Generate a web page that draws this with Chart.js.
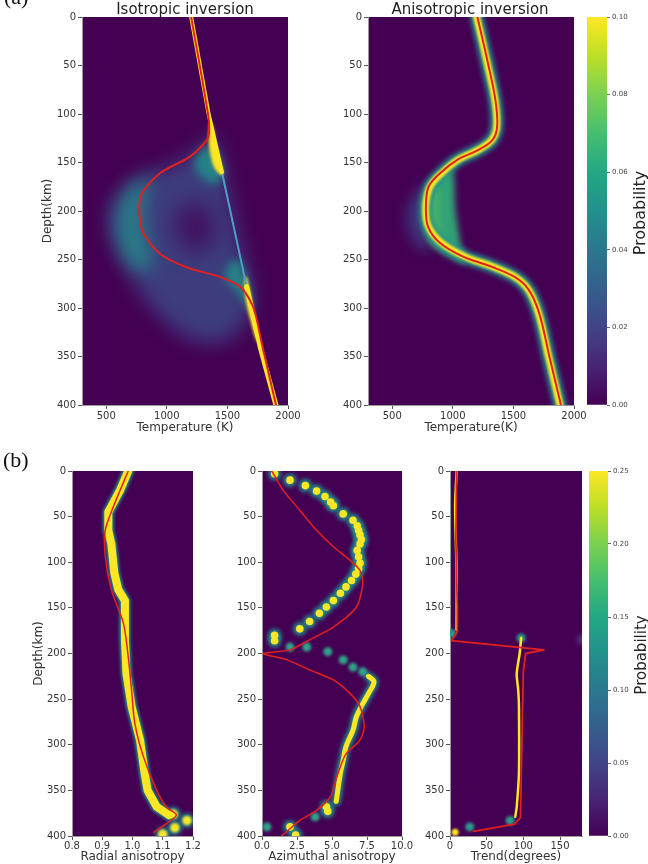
<!DOCTYPE html>
<html>
<head>
<meta charset="utf-8">
<script src="https://cdn.jsdelivr.net/npm/chart.js@4.4.1/dist/chart.umd.min.js"></script>
<style>
  html, body { margin: 0; padding: 0; background: #fff; }
  #fig { position: relative; width: 648px; height: 864px; overflow: hidden; font-family: "DejaVu Sans", sans-serif; color: #333; }
  canvas { position: absolute; }
  .txt { position: absolute; white-space: nowrap; }
  .serif { font-family: "Liberation Serif", serif; font-size: 22px; line-height: 22px; color: #111; }
  .title { font-size: 15px; line-height: 15px; transform: translateX(-50%); color: #222; }
  .cbl { font-size: 16px; line-height: 16px; transform: translate(-50%, -50%) rotate(-90deg); color: #222; }
</style>
</head>
<body>
<div id="fig">
  <canvas id="iso" width="310" height="440" style="left:0;top:0"></canvas>
  <canvas id="ani" width="280" height="440" style="left:310px;top:0"></canvas>
  <canvas id="cbA" width="68" height="440" style="left:580px;top:0"></canvas>
  <canvas id="rad" width="215" height="424" style="left:0;top:440px"></canvas>
  <canvas id="azi" width="210" height="424" style="left:210px;top:440px"></canvas>
  <canvas id="trd" width="200" height="424" style="left:400px;top:440px"></canvas>
  <canvas id="cbB" width="66" height="424" style="left:582px;top:440px"></canvas>

  <div class="txt serif" style="left:4px;top:-14px">(a)</div>
  <div class="txt serif" style="left:3px;top:449px">(b)</div>
  <div class="txt title" style="left:185px;top:2px">Isotropic inversion</div>
  <div class="txt title" style="left:470px;top:2px">Anisotropic inversion</div>
  <div class="txt cbl" style="left:640px;top:213px">Probability</div>
  <div class="txt cbl" style="left:641px;top:655px;font-size:15px">Probability</div>
</div>
<script>
// ---- ticks ----
const DEPTH_TICKS = [0, 50, 100, 150, 200, 250, 300, 350, 400];
const TEMP_TICKS = [500, 1000, 1500, 2000];
const RADIAL_TICKS = [0.8, 0.9, 1.0, 1.1, 1.2];
const AZIMUTH_TICKS = [0, 2.5, 5, 7.5, 10];
const TREND_TICKS = [0, 50, 100, 150];
const CB_A_TICKS = [0, 0.02, 0.04, 0.06, 0.08, 0.10];
const CB_B_TICKS = [0, 0.05, 0.10, 0.15, 0.20, 0.25];

// ---- (a) isotropic inversion: depth (km) / temperature (K) ----
const ISO_TRUE_UP_D = [0, 100, 160];
const ISO_TRUE_UP_T = [1201, 1345, 1455];
const ISO_TRUE_MID_D = [160, 280];
const ISO_TRUE_MID_T = [1455, 1662];
const ISO_TRUE_LOW_D = [278, 340, 400];
const ISO_TRUE_LOW_T = [1659, 1770, 1900];
const ISO_PATCH_UP_D = [108, 125, 145, 158, 163, 140, 112];
const ISO_PATCH_UP_T = [1355, 1345, 1365, 1405, 1460, 1420, 1378];
const ISO_PATCH_LOW_D = [268, 290, 320, 335, 318, 285, 268];
const ISO_PATCH_LOW_T = [1640, 1650, 1705, 1745, 1735, 1690, 1660];
const ISO_HAZE_D = [118, 138, 152, 165, 180, 200, 225, 250, 272, 295, 315, 332, 335, 315, 290, 230, 170, 130];
const ISO_HAZE_T = [1360, 1250, 1050, 800, 620, 520, 540, 620, 720, 850, 1000, 1200, 1450, 1650, 1700, 1600, 1490, 1410];
const ISO_TEAL_D = [160, 175, 195, 220, 245, 262, 255, 230, 205, 178];
const ISO_TEAL_T = [900, 700, 610, 590, 640, 780, 880, 840, 810, 840];
const ISO_TEAL_UP_D = [132, 148, 165, 172, 160, 135];
const ISO_TEAL_UP_T = [1330, 1230, 1290, 1420, 1460, 1400];
const ISO_TEAL_LOW_D = [248, 266, 285, 302, 280, 255];
const ISO_TEAL_LOW_T = [1560, 1480, 1590, 1690, 1680, 1620];
const ISO_HOLE_D = [195, 212, 236, 242, 226, 200, 190];
const ISO_HOLE_T = [1120, 1070, 1140, 1290, 1390, 1360, 1240];
const ISO_RED_D = [0, 100, 118, 127, 144, 161, 182, 196, 210, 223, 244, 258, 268, 278, 292, 305, 340, 400];
const ISO_RED_T = [1201, 1340, 1350, 1329, 1191, 944, 793, 773, 780, 806, 944, 1164, 1439, 1604, 1686, 1728, 1790, 1901];

// ---- (a) anisotropic inversion ----
const ANI_D = [0, 51, 86, 113, 127, 137, 147, 161, 175, 196, 216, 233, 247, 257, 268, 281, 305, 350, 400];
const ANI_T = [1197, 1290, 1348, 1362, 1320, 1210, 1045, 908, 812, 776, 798, 908, 1100, 1320, 1513, 1623, 1706, 1790, 1884];
const ANI_RED_T = [1203, 1296, 1352, 1366, 1326, 1212, 1040, 895, 800, 778, 795, 895, 1085, 1310, 1510, 1625, 1712, 1797, 1892];
const ANI_GREEN_D = [154, 166, 185, 205, 225, 238, 248, 254, 240, 215, 195, 172];
const ANI_GREEN_T = [1000, 860, 790, 770, 790, 860, 980, 1110, 1075, 1040, 1020, 1015];
const ANI_LIGHT_D = [170, 185, 205, 225, 238, 230, 205, 185];
const ANI_LIGHT_T = [850, 815, 800, 815, 880, 900, 870, 880];
const ANI_BLUE_D = [168, 185, 205, 225, 242, 230, 200];
const ANI_BLUE_T = [800, 680, 620, 660, 760, 820, 800];

// ---- (b) radial anisotropy ----
const RAD_BAND_D = [0, 21, 45, 65, 80, 112, 130, 142, 185, 222, 258, 295, 331, 350, 368, 377];
const RAD_BAND_V = [0.986, 0.959, 0.92, 0.92, 0.93, 0.94, 0.953, 0.975, 0.975, 0.98, 0.997, 1.025, 1.04, 1.05, 1.08, 1.12];
const RAD_BLOB_D = [376, 383, 391, 398];
const RAD_BLOB_V = [1.135, 1.18, 1.14, 1.10];
const RAD_RED_D = [0, 39, 65, 94, 130, 167, 204, 240, 277, 313, 350, 368, 377, 387, 396];
const RAD_RED_V = [0.986, 0.937, 0.91, 0.91, 0.93, 0.97, 0.986, 0.997, 1.008, 1.036, 1.08, 1.112, 1.145, 1.11, 1.07];

// ---- (b) azimuthal anisotropy ----
const AZ_BRIGHT_D = [3, 10, 16, 22, 28, 34, 38, 47, 54, 60, 65, 70, 75, 80, 87, 94, 101, 107, 113, 120, 127, 134, 142, 149, 156, 165, 173, 180, 186];
const AZ_BRIGHT_V = [0.9, 2.0, 3.1, 3.9, 4.5, 4.9, 5.1, 5.8, 6.5, 6.8, 6.9, 7.0, 7.1, 7.0, 6.8, 6.9, 7.0, 6.9, 6.7, 6.4, 6.0, 5.6, 5.1, 4.6, 4.1, 3.4, 2.7, 0.9, 0.9];
const AZ_DIM_D = [193, 193, 198, 207, 215, 220, 379, 390];
const AZ_DIM_V = [2.0, 3.2, 4.7, 5.8, 6.5, 7.2, 3.8, 0.35];
const AZ_BAND_D = [225, 231, 244, 255, 269, 284, 302, 317, 331, 346, 357, 362];
const AZ_BAND_V = [7.6, 8.0, 7.6, 7.2, 6.75, 6.5, 6.0, 5.8, 5.6, 5.45, 5.35, 5.3];
const AZ_TAIL_D = [368, 373, 390, 399];
const AZ_TAIL_V = [4.6, 4.7, 2.0, 2.4];
const AZ_RED_D = [0, 21, 43, 65, 83, 98, 109, 123, 149, 171, 185, 196, 200, 207, 218, 229, 244, 258, 280, 295, 310, 324, 342, 357, 372, 383, 392, 400];
const AZ_RED_V = [0.7, 1.5, 2.7, 3.9, 5.1, 6.3, 7.0, 7.2, 6.75, 5.1, 3.4, 2.0, 0.1, 1.8, 3.4, 5.1, 6.3, 7.0, 7.3, 7.0, 6.0, 5.6, 5.2, 4.9, 3.9, 2.7, 2.0, 1.4];

// ---- (b) trend ----
const TR_TOP_D = [0, 39, 112, 174];
const TR_TOP_V = [9, 7, 9, 9];
const TR_MID_D = [183, 200, 222, 240, 258, 331, 368, 379];
const TR_MID_V = [97, 95, 91, 93, 94, 94, 91, 89];
const TR_TEAL_D = [178, 183, 383, 390];
const TR_TEAL_V = [2, 97, 82, 27];
const TR_YBLOB_D = [396];
const TR_YBLOB_V = [7];
const TR_FAINT_D = [185];
const TR_FAINT_V = [180];
const TR_RED_D = [0, 76, 149, 176, 186, 196, 200, 220, 300, 380, 387, 395];
const TR_RED_V = [9, 8, 10, 10, 2, 128, 103, 100, 98, 96, 88, 32];

// ---- colours ----
const VIRIDIS = ["#440154", "#482475", "#414487", "#355f8d", "#2a788e", "#21918c", "#22a884", "#44bf70", "#7ad151", "#bddf26", "#fde725"];
const BG = "#440154";
const YEL = "#fde725";
const TEAL = "#21918c";
const RED = "#e3201f";
const FONT = "'DejaVu Sans', sans-serif";

// background of the plot area
const bgPlugin = {
  id: "bg",
  beforeDraw(chart, args, opts) {
    if (!opts.color) return;
    const { ctx, chartArea: a } = chart;
    ctx.save();
    ctx.fillStyle = opts.color;
    ctx.fillRect(a.left, a.top, a.width, a.height);
    ctx.restore();
  },
};

// soft edges (the density looks smoothed), per dataset "blur"
const blurPlugin = {
  id: "blur",
  beforeDatasetDraw(chart, args) {
    const b = chart.data.datasets[args.index].blur;
    if (b) {
      chart.ctx.save();
      chart.ctx.filter = `blur(${b}px)`;
    }
  },
  afterDatasetDraw(chart, args) {
    if (chart.data.datasets[args.index].blur) chart.ctx.restore();
  },
};

// blur must be set before the filler paints the areas
const filler = Chart.registry.getPlugin("filler");
Chart.unregister(filler);
Chart.register(bgPlugin, blurPlugin, filler);

const pts = (xs, ds) => xs.map((x, i) => ({ x, y: ds[i] }));

function line(xs, ds, color, width, order, extra) {
  return Object.assign({
    data: pts(xs, ds), showLine: true, borderColor: color, borderWidth: width,
    pointRadius: 0, fill: false, tension: 0.35, borderCapStyle: "round", borderJoinStyle: "round", order,
  }, extra);
}

function area(xs, ds, color, blur, order) {
  return {
    data: pts(xs, ds), showLine: true, borderWidth: 0, borderColor: "rgba(0,0,0,0)",
    backgroundColor: color, fill: "shape", pointRadius: 0, tension: 0.4, blur, order,
  };
}

function blobs(xs, ds, color, r, blur, order) {
  return {
    data: pts(xs, ds), showLine: false, pointRadius: r, pointBackgroundColor: color,
    pointBorderWidth: 0, pointBorderColor: "rgba(0,0,0,0)", blur, order,
  };
}

function depthAxis(width, title, titlePad) {
  return {
    type: "linear", reverse: true, min: 0, max: 400,
    afterBuildTicks: (s) => { s.ticks = DEPTH_TICKS.map((v) => ({ value: v })); },
    afterFit: (s) => { s.width = width; },
    grid: { drawOnChartArea: false, drawTicks: true, tickLength: 4, tickColor: "#555" },
    border: { color: "#9a9a9a" },
    ticks: { color: "#333", font: { family: FONT, size: 10 }, padding: 2 },
    title: { display: !!title, text: title, color: "#333", font: { family: FONT, size: 12 }, padding: { top: titlePad, bottom: 0 } },
  };
}

function valueAxis(min, max, ticks, fmt, height, title, titlePad, labelPad) {
  return {
    type: "linear", min, max,
    afterBuildTicks: (s) => { s.ticks = ticks.map((v) => ({ value: v })); },
    afterFit: (s) => { s.height = height; },
    grid: { drawOnChartArea: false, drawTicks: true, tickLength: 4, tickColor: "#555" },
    border: { color: "#9a9a9a" },
    ticks: { color: "#333", font: { family: FONT, size: 10 }, padding: labelPad, maxRotation: 0, callback: fmt },
    title: { display: true, text: title, color: "#333", font: { family: FONT, size: 12 }, padding: { top: 0, bottom: titlePad } },
  };
}

function panel(id, datasets, x, y, padding) {
  return new Chart(document.getElementById(id), {
    type: "scatter",
    data: { datasets },
    options: {
      responsive: false, animation: false, events: [],
      layout: { padding },
      plugins: { legend: { display: false }, tooltip: { enabled: false }, bg: { color: BG } },
      scales: { x, y },
    },
  });
}

function colorbar(id, ticks, padding, yWidth) {
  const top = ticks[ticks.length - 1];
  return new Chart(document.getElementById(id), {
    type: "bar",
    data: {
      labels: [""],
      datasets: [{
        data: [top], barPercentage: 1, categoryPercentage: 1, borderWidth: 0,
        backgroundColor: (c) => {
          const a = c.chart.chartArea;
          if (!a) return VIRIDIS[0];
          const g = c.chart.ctx.createLinearGradient(0, a.bottom, 0, a.top);
          VIRIDIS.forEach((col, i) => g.addColorStop(i / (VIRIDIS.length - 1), col));
          return g;
        },
      }],
    },
    options: {
      responsive: false, animation: false, events: [],
      layout: { padding },
      plugins: { legend: { display: false }, tooltip: { enabled: false } },
      scales: {
        x: { display: false },
        y: {
          position: "right", min: 0, max: top,
          afterBuildTicks: (s) => { s.ticks = ticks.map((v) => ({ value: v })); },
          afterFit: (s) => { s.width = yWidth; },
          grid: { drawOnChartArea: false, drawTicks: true, tickLength: 3, tickColor: "#666" },
          border: { display: false },
          ticks: { color: "#444", font: { family: FONT, size: 7 }, padding: 2, callback: (v) => v.toFixed(2) },
        },
      },
    },
  });
}

// (a) isotropic
panel("iso", [
  line(ISO_RED_T, ISO_RED_D, RED, 2, 0),
  line(ISO_TRUE_UP_T, ISO_TRUE_UP_D, YEL, 4, 1, { tension: 0 }),
  line(ISO_TRUE_LOW_T, ISO_TRUE_LOW_D, YEL, 5, 1, { tension: 0 }),
  line(ISO_TRUE_MID_T, ISO_TRUE_MID_D, "#4d9fc9", 2, 2, { tension: 0 }),
  area(ISO_PATCH_UP_T, ISO_PATCH_UP_D, YEL, 1.5, 3),
  area(ISO_PATCH_LOW_T, ISO_PATCH_LOW_D, YEL, 1.5, 3),
  area(ISO_TEAL_UP_T, ISO_TEAL_UP_D, "rgba(33,145,140,0.85)", 5, 4),
  area(ISO_TEAL_LOW_T, ISO_TEAL_LOW_D, "rgba(33,145,140,0.85)", 5, 4),
  area(ISO_TEAL_T, ISO_TEAL_D, "rgba(33,145,140,0.75)", 9, 5),
  area(ISO_HOLE_T, ISO_HOLE_D, "rgba(68,1,84,0.75)", 11, 6),
  area(ISO_HAZE_T, ISO_HAZE_D, "rgba(59,82,139,0.75)", 10, 7),
], valueAxis(300, 2000, TEMP_TICKS, (v) => v, 35, "Temperature (K)", 5, 1),
   depthAxis(82, "Depth(km)", 41), { left: 0, top: 17, right: 22, bottom: 0 });

// (a) anisotropic
panel("ani", [
  line(ANI_RED_T, ANI_D, RED, 2, 0),
  line(ANI_T, ANI_D, YEL, 7, 1, { blur: 0.8 }),
  line(ANI_T, ANI_D, TEAL, 13, 2, { blur: 2.5 }),
  area(ANI_LIGHT_T, ANI_LIGHT_D, "rgba(122,209,81,0.55)", 4, 3),
  area(ANI_GREEN_T, ANI_GREEN_D, "rgba(48,176,122,0.92)", 3, 4),
  area(ANI_BLUE_T, ANI_BLUE_D, "rgba(59,82,139,0.7)", 7, 5),
], valueAxis(300, 2000, TEMP_TICKS, (v) => v, 35, "Temperature(K)", 5, 1),
   depthAxis(58, "", 0), { left: 0, top: 17, right: 16, bottom: 0 });

colorbar("cbA", CB_A_TICKS, { left: 7, top: 17, right: 0, bottom: 35 }, 41);

// (b) radial
panel("rad", [
  line(RAD_RED_V, RAD_RED_D, RED, 1.5, 0, { tension: 0.3 }),
  blobs(RAD_BLOB_V, RAD_BLOB_D, YEL, 4.5, 0.8, 1),
  line(RAD_BAND_V, RAD_BAND_D, YEL, 8, 1, { tension: 0, borderJoinStyle: "miter", blur: 0.6 }),
  blobs(RAD_BLOB_V, RAD_BLOB_D, TEAL, 7, 2, 2),
  line(RAD_BAND_V, RAD_BAND_D, TEAL, 11, 2, { tension: 0, blur: 1.5 }),
], valueAxis(0.8, 1.2, RADIAL_TICKS, (v) => v.toFixed(1), 28, "Radial anisotropy", 0, 0),
   depthAxis(72, "Depth(km)", 32), { left: 0, top: 31, right: 22, bottom: 0 });

// (b) azimuthal
panel("azi", [
  line(AZ_RED_V, AZ_RED_D, RED, 1.5, 0, { tension: 0.25 }),
  blobs(AZ_BRIGHT_V, AZ_BRIGHT_D, YEL, 3.8, 0.6, 1),
  blobs(AZ_TAIL_V, AZ_TAIL_D, YEL, 3.8, 0.6, 1),
  line(AZ_BAND_V, AZ_BAND_D, YEL, 5, 1, { blur: 0.6 }),
  blobs(AZ_DIM_V, AZ_DIM_D, "#2fa58a", 4.5, 1.5, 2),
  blobs(AZ_BRIGHT_V, AZ_BRIGHT_D, TEAL, 6.5, 2, 3),
  blobs(AZ_TAIL_V, AZ_TAIL_D, TEAL, 6.5, 2, 3),
  line(AZ_BAND_V, AZ_BAND_D, TEAL, 9, 3, { blur: 2 }),
], valueAxis(0, 10, AZIMUTH_TICKS, (v) => v.toFixed(1), 28, "Azimuthal anisotropy", 0, 0),
   depthAxis(52, "", 0), { left: 0, top: 31, right: 18, bottom: 0 });

// (b) trend
panel("trd", [
  line(TR_RED_V, TR_RED_D, RED, 1.8, 0, { tension: 0 }),
  line(TR_TOP_V, TR_TOP_D, YEL, 2.5, 1, { tension: 0.3 }),
  line(TR_MID_V, TR_MID_D, YEL, 2.5, 1, { tension: 0.3 }),
  blobs(TR_YBLOB_V, TR_YBLOB_D, YEL, 3.5, 0.8, 1),
  blobs(TR_TEAL_V, TR_TEAL_D, "#2a9d8a", 4.5, 1.5, 2),
  blobs(TR_FAINT_V, TR_FAINT_D, "rgba(90,90,160,0.6)", 5, 2.5, 2),
], valueAxis(0, 180, TREND_TICKS, (v) => v, 28, "Trend(degrees)", 0, 0),
   depthAxis(50, "", 0), { left: 0, top: 31, right: 18, bottom: 0 });

colorbar("cbB", CB_B_TICKS, { left: 7, top: 31, right: 0, bottom: 28 }, 40);
</script>
</body>
</html>
